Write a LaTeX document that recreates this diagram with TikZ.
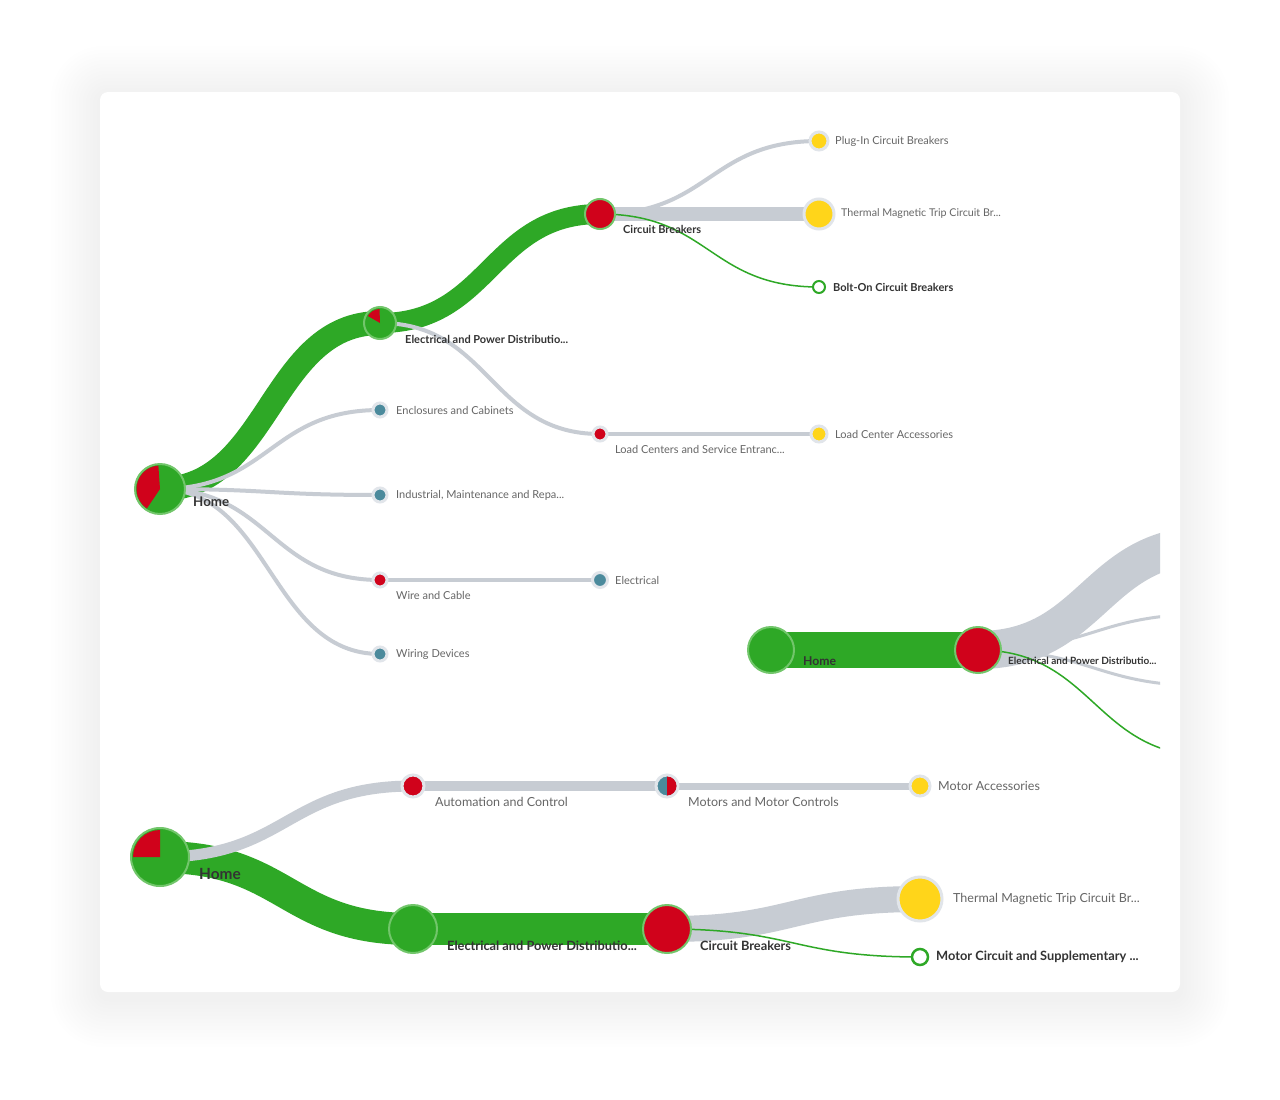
\documentclass[tikz,border=0pt]{standalone}
\usepackage{fontspec}
\setmainfont{Lato}
\usetikzlibrary{calc}
\definecolor{brandgreen}{HTML}{2EA826}
\definecolor{ringgreen}{HTML}{72C66B}
\definecolor{brandred}{HTML}{D0021B}
\definecolor{sunyellow}{HTML}{FFD51A}
\definecolor{tealdot}{HTML}{4B8A9C}
\definecolor{linkgrey}{HTML}{C7CCD3}
\definecolor{halo}{HTML}{E1E5EA}
\definecolor{labelgrey}{HTML}{666666}
\definecolor{labeldark}{HTML}{333333}
\pgfdeclarelayer{back}
\pgfdeclarelayer{links}
\pgfsetlayers{back,links,main}

\begin{document}
\begin{tikzpicture}[x=1pt,y=-1pt,
  hub/.style={circle,inner sep=0pt,draw=ringgreen,line width=2pt},
  leaf/.style={circle,inner sep=0pt,draw=halo,line width=3pt},
  hollow/.style={circle,inner sep=0pt,draw=brandgreen,line width=2pt,fill=white},
  lbl/.style={anchor=west,inner sep=0pt,text=labelgrey,font=\fontsize{#1}{#1}\selectfont},
  lbl/.default=11,
  blbl/.style={anchor=west,inner sep=0pt,text=labeldark,font=\fontsize{#1}{#1}\selectfont\bfseries},
  blbl/.default=11,
  hot/.style={draw=brandgreen},
  cold/.style={draw=linkgrey}]
\useasboundingbox (0,0) rectangle (1280,1100);
\begin{pgfonlayer}{back}
\fill[white] (0,0) rectangle (1280,1100);
\foreach \g in {1,...,14}
  \fill[black,opacity=0.003,rounded corners=10pt+3pt*\g] (100-3.5*\g,95-3.5*\g) rectangle (1180+3.5*\g,998+3.5*\g);
\fill[white,rounded corners=8pt] (100,92) rectangle (1180,992);
\end{pgfonlayer}

% top tree
\node[hub,fill=brandgreen,minimum size=50pt] (home1) at (160,489) {};
\node[hub,fill=brandgreen,minimum size=32pt] (elec1) at (380,323) {};
\node[hub,fill=brandred,minimum size=30pt] (cb1) at (600,214) {};
\node[leaf,fill=sunyellow,minimum size=18pt] (plug1) at (819,141) {};
\node[leaf,fill=sunyellow,minimum size=30pt] (therm1) at (819,214) {};
\node[hollow,minimum size=12pt] (bolt1) at (819,287) {};
\node[leaf,fill=tealdot,minimum size=14pt] (encl1) at (380,410) {};
\node[leaf,fill=tealdot,minimum size=14pt] (indus1) at (380,495) {};
\node[leaf,fill=brandred,minimum size=14pt] (wire1) at (380,580) {};
\node[leaf,fill=tealdot,minimum size=14pt] (wdev1) at (380,654) {};
\node[leaf,fill=brandred,minimum size=14pt] (load1) at (600,434) {};
\node[leaf,fill=tealdot,minimum size=15pt] (elecw1) at (600,580) {};
\node[leaf,fill=sunyellow,minimum size=16pt] (lacc1) at (819,434) {};
\fill[brandred] (home1.center) -- ++(94:23.5pt) arc[start angle=94,end angle=236,radius=23.5pt] -- cycle;
\fill[brandred] (elec1.center) -- ++(92:14pt) arc[start angle=92,end angle=150,radius=14pt] -- cycle;

\node[blbl=13.3] (t-home1) at (193,502) {Home};
\node[blbl] (t-elec1) at (405,339) {Electrical and Power Distributio...};
\node[blbl] (t-cb1) at (623,229) {Circuit Breakers};
\node[lbl] (t-plug1) at (835,141) {Plug-In Circuit Breakers};
\node[lbl=10.7] (t-therm1) at (841,214) {Thermal Magnetic Trip Circuit Br...};
\node[blbl] (t-bolt1) at (833,287) {Bolt-On Circuit Breakers};
\node[lbl] (t-encl1) at (396,410) {Enclosures and Cabinets};
\node[lbl] (t-indus1) at (396,495) {Industrial, Maintenance and Repa...};
\node[lbl] (t-load1) at (615,449) {Load Centers and Service Entranc...};
\node[lbl] (t-lacc1) at (835,434) {Load Center Accessories};
\node[lbl] (t-wire1) at (396,595) {Wire and Cable};
\node[lbl] (t-elecw1) at (615,580) {Electrical};
\node[lbl] (t-wdev1) at (396,654) {Wiring Devices};

\begin{pgfonlayer}{links}
\draw[hot,line width=24pt] (home1.center) .. controls +(110,0) and +(-110,0) .. (elec1.center);
\draw[hot,line width=20pt] (elec1.center) .. controls +(110,0) and +(-110,0) .. (cb1.center);
\draw[cold,line width=4pt] (cb1.center) .. controls +(110,0) and +(-110,0) .. (plug1.center);
\draw[cold,line width=14pt] (cb1.center) -- (therm1.center);
\draw[hot,line width=1.5pt] (cb1.center) .. controls +(110,0) and +(-110,0) .. (bolt1.center);
\foreach \leaf in {encl1,indus1,wire1,wdev1}
  \draw[cold,line width=4pt] (home1.center) .. controls +(110,0) and +(-110,0) .. (\leaf.center);
\draw[cold,line width=4pt] (elec1.center) .. controls +(110,0) and +(-110,0) .. (load1.center);
\draw[cold,line width=4pt] (load1.center) -- (lacc1.center);
\draw[cold,line width=4pt] (wire1.center) -- (elecw1.center);
\end{pgfonlayer}

% middle tree, cut at the card edge
\node[hub,fill=brandgreen,minimum size=46pt] (home2) at (771,650) {};
\node[hub,fill=brandred,minimum size=46pt] (elec2) at (978,650) {};
\coordinate (m1) at (1210,545);
\coordinate (m2) at (1210,614);
\coordinate (m3) at (1210,686);
\coordinate (m4) at (1210,756);
\node[blbl=12.2] (t-home2) at (803,661) {Home};
\node[blbl=10] (t-elec2) at (1008,661) {Electrical and Power Distributio...};
\begin{pgfonlayer}{links}
\draw[hot,line width=36pt] (home2.center) -- (elec2.center);
\begin{scope}
\clip (900,480) rectangle (1160,800);
\draw[cold,line width=38pt] (elec2.center) .. controls +(116,0) and +(-116,0) .. (m1);
\draw[cold,line width=3pt] (elec2.center) .. controls +(116,0) and +(-116,0) .. (m2);
\draw[cold,line width=3pt] (elec2.center) .. controls +(116,0) and +(-116,0) .. (m3);
\draw[hot,line width=1.5pt] (elec2.center) .. controls +(116,0) and +(-116,0) .. (m4);
\end{scope}
\end{pgfonlayer}

% bottom tree
\node[hub,fill=brandgreen,minimum size=58pt] (home3) at (160,857) {};
\node[hub,fill=brandgreen,minimum size=48pt] (elec3) at (413,929) {};
\node[hub,fill=brandred,minimum size=48pt] (cb3) at (667,929) {};
\node[leaf,fill=brandred,minimum size=22pt] (auto3) at (413,786) {};
\node[leaf,fill=tealdot,minimum size=22pt] (motor3) at (667,786) {};
\node[leaf,fill=sunyellow,minimum size=20pt] (macc3) at (920,786) {};
\node[leaf,fill=sunyellow,minimum size=44pt] (therm3) at (920,899) {};
\node[hollow,minimum size=16pt,line width=2.5pt] (mcirc3) at (920,957) {};
\fill[brandred] (home3.center) -- ++(90:27pt) arc[start angle=90,end angle=180,radius=27pt] -- cycle;
\fill[brandred] (motor3.center) -- ++(90:9.5pt) arc[start angle=90,end angle=-90,radius=9.5pt] -- cycle;

\node[blbl=15.4] (t-home3) at (199,874) {Home};
\node[lbl=12.5] (t-auto3) at (435,802) {Automation and Control};
\node[lbl=12.5] (t-motor3) at (688,802) {Motors and Motor Controls};
\node[lbl=12.5] (t-macc3) at (938,786) {Motor Accessories};
\node[blbl=12.8] (t-elec3) at (447,946) {Electrical and Power Distributio...};
\node[blbl=12.8] (t-cb3) at (700,946) {Circuit Breakers};
\node[lbl=12.5] (t-therm3) at (953,899) {Thermal Magnetic Trip Circuit Br...};
\node[blbl=12.8] (t-mcirc3) at (936,957) {Motor Circuit and Supplementary ...};

\begin{pgfonlayer}{links}
\draw[hot,line width=32pt] (home3.center) .. controls +(127,0) and +(-127,0) .. (elec3.center);
\draw[hot,line width=32pt] (elec3.center) -- (cb3.center);
\draw[cold,line width=11pt] (home3.center) .. controls +(127,0) and +(-127,0) .. (auto3.center);
\draw[cold,line width=10pt] (auto3.center) -- (motor3.center);
\draw[cold,line width=7pt] (motor3.center) -- (macc3.center);
\draw[cold,line width=26pt] (cb3.center) .. controls +(127,0) and +(-127,0) .. (therm3.center);
\draw[hot,line width=1.5pt] (cb3.center) .. controls +(127,0) and +(-127,0) .. (mcirc3.center);
\end{pgfonlayer}
\end{tikzpicture}
\end{document}
